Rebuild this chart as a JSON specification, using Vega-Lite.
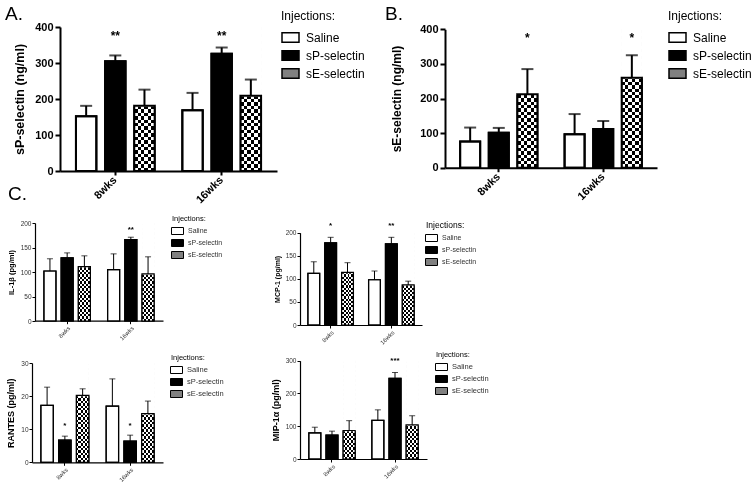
{
"$schema": "https://vega.github.io/schema/vega-lite/v6.json",
"padding": {"left": 5, "top": 5, "right": 5, "bottom": 5},
"background": "#ffffff",
"datasets": {"bars": [
{"panel":"A","time":"8wks","group":"Saline","mean":152,"err":181,"sig":""},
{"panel":"A","time":"8wks","group":"sP-selectin","mean":305,"err":321,"sig":"**"},
{"panel":"A","time":"8wks","group":"sE-selectin","mean":181,"err":226,"sig":""},
{"panel":"A","time":"16wks","group":"Saline","mean":169,"err":217,"sig":""},
{"panel":"A","time":"16wks","group":"sP-selectin","mean":326,"err":343,"sig":"**"},
{"panel":"A","time":"16wks","group":"sE-selectin","mean":209,"err":254,"sig":""},
{"panel":"B","time":"8wks","group":"Saline","mean":76,"err":116,"sig":""},
{"panel":"B","time":"8wks","group":"sP-selectin","mean":101,"err":115,"sig":""},
{"panel":"B","time":"8wks","group":"sE-selectin","mean":212,"err":285,"sig":"*"},
{"panel":"B","time":"16wks","group":"Saline","mean":97,"err":155,"sig":""},
{"panel":"B","time":"16wks","group":"sP-selectin","mean":112,"err":135,"sig":""},
{"panel":"B","time":"16wks","group":"sE-selectin","mean":260,"err":325,"sig":"*"},
{"panel":"IL","time":"8wks","group":"Saline","mean":102,"err":127,"sig":""},
{"panel":"IL","time":"8wks","group":"sP-selectin","mean":129,"err":139,"sig":""},
{"panel":"IL","time":"8wks","group":"sE-selectin","mean":111,"err":133,"sig":""},
{"panel":"IL","time":"16wks","group":"Saline","mean":105,"err":137,"sig":""},
{"panel":"IL","time":"16wks","group":"sP-selectin","mean":166,"err":171,"sig":"**"},
{"panel":"IL","time":"16wks","group":"sE-selectin","mean":96,"err":131,"sig":""},
{"panel":"MCP","time":"8wks","group":"Saline","mean":112,"err":137,"sig":""},
{"panel":"MCP","time":"8wks","group":"sP-selectin","mean":178,"err":190,"sig":"*"},
{"panel":"MCP","time":"8wks","group":"sE-selectin","mean":114,"err":135,"sig":""},
{"panel":"MCP","time":"16wks","group":"Saline","mean":98,"err":117,"sig":""},
{"panel":"MCP","time":"16wks","group":"sP-selectin","mean":176,"err":190,"sig":"**"},
{"panel":"MCP","time":"16wks","group":"sE-selectin","mean":87,"err":95,"sig":""},
{"panel":"RANTES","time":"8wks","group":"Saline","mean":17.2,"err":22.7,"sig":""},
{"panel":"RANTES","time":"8wks","group":"sP-selectin","mean":6.7,"err":7.9,"sig":"*"},
{"panel":"RANTES","time":"8wks","group":"sE-selectin","mean":20.2,"err":22.2,"sig":""},
{"panel":"RANTES","time":"16wks","group":"Saline","mean":17.0,"err":25.2,"sig":""},
{"panel":"RANTES","time":"16wks","group":"sP-selectin","mean":6.4,"err":8.2,"sig":"*"},
{"panel":"RANTES","time":"16wks","group":"sE-selectin","mean":14.7,"err":18.5,"sig":""},
{"panel":"MIP","time":"8wks","group":"Saline","mean":80,"err":97,"sig":""},
{"panel":"MIP","time":"8wks","group":"sP-selectin","mean":73,"err":85,"sig":""},
{"panel":"MIP","time":"8wks","group":"sE-selectin","mean":87,"err":117,"sig":""},
{"panel":"MIP","time":"16wks","group":"Saline","mean":118,"err":150,"sig":""},
{"panel":"MIP","time":"16wks","group":"sP-selectin","mean":246,"err":264,"sig":"***"},
{"panel":"MIP","time":"16wks","group":"sE-selectin","mean":104,"err":132,"sig":""}
]},
"config": {
 "font": "Liberation Sans",
 "view": {"stroke": null},
 "axis": {"grid": false, "domainColor": "#000000", "tickColor": "#000000", "labelColor": "#000000", "titleColor": "#000000", "labelFont": "Liberation Sans", "titleFont": "Liberation Sans", "labelOverlap": false},
 "legend": {"titleColor": "#000000", "labelColor": "#000000", "titleFont": "Liberation Sans", "labelFont": "Liberation Sans", "padding": 0}
},
"columns": 2,
"spacing": {"row": 38, "column": 0},
"align": "each",
"bounds": "flush",
"resolve": {"scale": {"x": "independent", "y": "independent", "xOffset": "independent", "fill": "independent"}, "legend": {"fill": "independent"}, "axis": {"x": "independent", "y": "independent"}},
"concat": [
{
 "title": {"text": "A.", "anchor": "start", "frame": "group", "dx": -27, "offset": -13, "fontSize": 19, "fontWeight": "normal", "color": "#000000", "font": "Liberation Sans"},
 "width": 268, "height": 158,
 "data": {"name": "bars"},
 "transform": [{"filter": "datum.panel === 'A'"}],
 "encoding": {
  "x": {"field": "time", "type": "nominal", "sort": ["8wks","16wks"], "title": null,
        "scale": {"range": [28, 245], "paddingInner": 0.26, "paddingOuter": 0.15},
        "axis": {"offset": -14, "labelAngle": -45, "labelAlign": "right", "labelBaseline": "middle", "labelFontSize": 11, "labelFontWeight": "bold", "domainWidth": 2, "tickWidth": 2, "tickSize": 4, "labelPadding": 3}},
  "xOffset": {"field": "group", "type": "nominal", "sort": ["Saline","sP-selectin","sE-selectin"], "scale": {"paddingInner": 0.3, "paddingOuter": 0}}
 },
 "layer": [
  {"mark": {"type": "bar", "stroke": "#000000", "strokeWidth": 2},
   "encoding": {
    "y": {"field": "mean", "type": "quantitative", "scale": {"domain": [0,400], "range": [144,0], "nice": false},
          "axis": {"offset": -28, "values": [0,100,200,300,400], "tickCount": 5, "labelOverlap": false, "title": "sP-selectin (ng/ml)", "titleFontSize": 12.5, "titleFontWeight": "bold", "titlePadding": 8, "labelFontSize": 11, "labelFontWeight": "bold", "labelPadding": 2, "domainWidth": 2, "tickWidth": 2, "tickSize": 5}},
    "fill": {"field": "group", "type": "nominal", "scale": {"domain": ["Saline","sP-selectin","sE-selectin"], "range": ["#ffffff","#000000","#808080"]},
     "legend": {"title": "Injections:", "orient": "none", "legendX": 249, "legendY": -16, "direction": "vertical", "titleFontSize": 12, "titleFontWeight": "normal", "titlePadding": 5, "labelFontSize": 12, "labelOffset": 6, "symbolType": "M-1,-0.55H1V0.55H-1Z", "symbolSize": 289, "symbolStrokeWidth": 1.5, "symbolStrokeColor": "#000000", "rowPadding": -1}}
   }},
  {"transform": [{"filter": "datum.group === 'sE-selectin'"}],
   "mark": {"type": "bar", "stroke": null, "fill": {"gradient":"linear","x1":0,"y1":0,"x2":1,"y2":0,"stops":[{"offset":0,"color":"#fff"},{"offset":0.1667,"color":"#fff"},{"offset":0.1667,"color":"#000"},{"offset":0.3333,"color":"#000"},{"offset":0.3333,"color":"#fff"},{"offset":0.5,"color":"#fff"},{"offset":0.5,"color":"#000"},{"offset":0.6667,"color":"#000"},{"offset":0.6667,"color":"#fff"},{"offset":0.8333,"color":"#fff"},{"offset":0.8333,"color":"#000"},{"offset":1,"color":"#000"}]}},
   "encoding": {"y": {"field": "mean", "type": "quantitative"}}},
  {"transform": [{"filter": "datum.group === 'sE-selectin'"}],
   "mark": {"type": "bar", "blend": "difference", "stroke": null, "fill": {"gradient":"linear","x1":0,"y1":0,"x2":0,"y2":1,"stops":[{"offset":0,"color":"#fff"},{"offset":0.0238,"color":"#fff"},{"offset":0.0238,"color":"#000"},{"offset":0.0476,"color":"#000"},{"offset":0.0476,"color":"#fff"},{"offset":0.0714,"color":"#fff"},{"offset":0.0714,"color":"#000"},{"offset":0.0952,"color":"#000"},{"offset":0.0952,"color":"#fff"},{"offset":0.119,"color":"#fff"},{"offset":0.119,"color":"#000"},{"offset":0.1429,"color":"#000"},{"offset":0.1429,"color":"#fff"},{"offset":0.1667,"color":"#fff"},{"offset":0.1667,"color":"#000"},{"offset":0.1905,"color":"#000"},{"offset":0.1905,"color":"#fff"},{"offset":0.2143,"color":"#fff"},{"offset":0.2143,"color":"#000"},{"offset":0.2381,"color":"#000"},{"offset":0.2381,"color":"#fff"},{"offset":0.2619,"color":"#fff"},{"offset":0.2619,"color":"#000"},{"offset":0.2857,"color":"#000"},{"offset":0.2857,"color":"#fff"},{"offset":0.3095,"color":"#fff"},{"offset":0.3095,"color":"#000"},{"offset":0.3333,"color":"#000"},{"offset":0.3333,"color":"#fff"},{"offset":0.3571,"color":"#fff"},{"offset":0.3571,"color":"#000"},{"offset":0.381,"color":"#000"},{"offset":0.381,"color":"#fff"},{"offset":0.4048,"color":"#fff"},{"offset":0.4048,"color":"#000"},{"offset":0.4286,"color":"#000"},{"offset":0.4286,"color":"#fff"},{"offset":0.4524,"color":"#fff"},{"offset":0.4524,"color":"#000"},{"offset":0.4762,"color":"#000"},{"offset":0.4762,"color":"#fff"},{"offset":0.5,"color":"#fff"},{"offset":0.5,"color":"#000"},{"offset":0.5238,"color":"#000"},{"offset":0.5238,"color":"#fff"},{"offset":0.5476,"color":"#fff"},{"offset":0.5476,"color":"#000"},{"offset":0.5714,"color":"#000"},{"offset":0.5714,"color":"#fff"},{"offset":0.5952,"color":"#fff"},{"offset":0.5952,"color":"#000"},{"offset":0.619,"color":"#000"},{"offset":0.619,"color":"#fff"},{"offset":0.6429,"color":"#fff"},{"offset":0.6429,"color":"#000"},{"offset":0.6667,"color":"#000"},{"offset":0.6667,"color":"#fff"},{"offset":0.6905,"color":"#fff"},{"offset":0.6905,"color":"#000"},{"offset":0.7143,"color":"#000"},{"offset":0.7143,"color":"#fff"},{"offset":0.7381,"color":"#fff"},{"offset":0.7381,"color":"#000"},{"offset":0.7619,"color":"#000"},{"offset":0.7619,"color":"#fff"},{"offset":0.7857,"color":"#fff"},{"offset":0.7857,"color":"#000"},{"offset":0.8095,"color":"#000"},{"offset":0.8095,"color":"#fff"},{"offset":0.8333,"color":"#fff"},{"offset":0.8333,"color":"#000"},{"offset":0.8571,"color":"#000"},{"offset":0.8571,"color":"#fff"},{"offset":0.881,"color":"#fff"},{"offset":0.881,"color":"#000"},{"offset":0.9048,"color":"#000"},{"offset":0.9048,"color":"#fff"},{"offset":0.9286,"color":"#fff"},{"offset":0.9286,"color":"#000"},{"offset":0.9524,"color":"#000"},{"offset":0.9524,"color":"#fff"},{"offset":0.9762,"color":"#fff"},{"offset":0.9762,"color":"#000"},{"offset":1,"color":"#000"}]}},
   "encoding": {"y": {"datum": 0}, "y2": {"datum": 400}}},
  {"transform": [{"filter": "datum.group === 'sE-selectin'"}],
   "mark": {"type": "bar", "fill": "#ffffff", "stroke": "#ffffff", "strokeWidth": 1.5},
   "encoding": {"y": {"field": "mean", "type": "quantitative"}, "y2": {"datum": 400}}},
  {"mark": {"type": "bar", "fill": "#ffffff", "fillOpacity": 0, "stroke": "#000000", "strokeWidth": 2},
   "encoding": {"y": {"field": "mean", "type": "quantitative"}}},
  {"mark": {"type": "rule", "color": "#000000", "strokeWidth": 2},
   "encoding": {"y": {"field": "mean", "type": "quantitative"}, "y2": {"field": "err"}}},
  {"mark": {"type": "tick", "orient": "horizontal", "color": "#000000", "size": 12, "thickness": 2},
   "encoding": {"y": {"field": "err", "type": "quantitative"}}},
  {"mark": {"type": "text", "fontSize": 12, "fontWeight": "bold", "color": "#000000"},
   "encoding": {"y": {"datum": 376}, "text": {"field": "sig"}}}
 ]
},
{
 "title": {"text": "B.", "anchor": "start", "frame": "group", "dx": 85, "offset": -13, "fontSize": 19, "fontWeight": "normal", "color": "#000000", "font": "Liberation Sans"},
 "width": 360, "height": 158,
 "data": {"name": "bars"},
 "transform": [{"filter": "datum.panel === 'B'"}],
 "encoding": {
  "x": {"field": "time", "type": "nominal", "sort": ["8wks","16wks"], "title": null,
        "scale": {"range": [145, 357], "paddingInner": 0.26, "paddingOuter": 0.145},
        "axis": {"offset": -17.3, "labelAngle": -45, "labelAlign": "right", "labelBaseline": "middle", "labelFontSize": 11, "labelFontWeight": "bold", "domainWidth": 2, "tickWidth": 2, "tickSize": 4, "labelPadding": 3}},
  "xOffset": {"field": "group", "type": "nominal", "sort": ["Saline","sP-selectin","sE-selectin"], "scale": {"paddingInner": 0.3, "paddingOuter": 0}}
 },
 "layer": [
  {"mark": {"type": "bar", "stroke": "#000000", "strokeWidth": 2},
   "encoding": {
    "y": {"field": "mean", "type": "quantitative", "scale": {"domain": [0,400], "range": [140.7,2.3], "nice": false},
          "axis": {"offset": -145, "values": [0,100,200,300,400], "tickCount": 5, "labelOverlap": false, "title": "sE-selectin (ng/ml)", "titleFontSize": 12, "titleFontWeight": "bold", "titlePadding": 16, "labelFontSize": 11, "labelFontWeight": "bold", "labelPadding": 2, "domainWidth": 2, "tickWidth": 2, "tickSize": 5}},
    "fill": {"field": "group", "type": "nominal", "scale": {"domain": ["Saline","sP-selectin","sE-selectin"], "range": ["#ffffff","#000000","#808080"]},
     "legend": {"title": "Injections:", "orient": "none", "legendX": 368, "legendY": -16, "direction": "vertical", "titleFontSize": 12, "titleFontWeight": "normal", "titlePadding": 5, "labelFontSize": 12, "labelOffset": 6, "symbolType": "M-1,-0.55H1V0.55H-1Z", "symbolSize": 289, "symbolStrokeWidth": 1.5, "symbolStrokeColor": "#000000", "rowPadding": -1}}
   }},
  {"transform": [{"filter": "datum.group === 'sE-selectin'"}],
   "mark": {"type": "bar", "stroke": null, "fill": {"gradient":"linear","x1":0,"y1":0,"x2":1,"y2":0,"stops":[{"offset":0,"color":"#fff"},{"offset":0.1667,"color":"#fff"},{"offset":0.1667,"color":"#000"},{"offset":0.3333,"color":"#000"},{"offset":0.3333,"color":"#fff"},{"offset":0.5,"color":"#fff"},{"offset":0.5,"color":"#000"},{"offset":0.6667,"color":"#000"},{"offset":0.6667,"color":"#fff"},{"offset":0.8333,"color":"#fff"},{"offset":0.8333,"color":"#000"},{"offset":1,"color":"#000"}]}},
   "encoding": {"y": {"field": "mean", "type": "quantitative"}}},
  {"transform": [{"filter": "datum.group === 'sE-selectin'"}],
   "mark": {"type": "bar", "blend": "difference", "stroke": null, "fill": {"gradient":"linear","x1":0,"y1":0,"x2":0,"y2":1,"stops":[{"offset":0,"color":"#fff"},{"offset":0.0238,"color":"#fff"},{"offset":0.0238,"color":"#000"},{"offset":0.0476,"color":"#000"},{"offset":0.0476,"color":"#fff"},{"offset":0.0714,"color":"#fff"},{"offset":0.0714,"color":"#000"},{"offset":0.0952,"color":"#000"},{"offset":0.0952,"color":"#fff"},{"offset":0.119,"color":"#fff"},{"offset":0.119,"color":"#000"},{"offset":0.1429,"color":"#000"},{"offset":0.1429,"color":"#fff"},{"offset":0.1667,"color":"#fff"},{"offset":0.1667,"color":"#000"},{"offset":0.1905,"color":"#000"},{"offset":0.1905,"color":"#fff"},{"offset":0.2143,"color":"#fff"},{"offset":0.2143,"color":"#000"},{"offset":0.2381,"color":"#000"},{"offset":0.2381,"color":"#fff"},{"offset":0.2619,"color":"#fff"},{"offset":0.2619,"color":"#000"},{"offset":0.2857,"color":"#000"},{"offset":0.2857,"color":"#fff"},{"offset":0.3095,"color":"#fff"},{"offset":0.3095,"color":"#000"},{"offset":0.3333,"color":"#000"},{"offset":0.3333,"color":"#fff"},{"offset":0.3571,"color":"#fff"},{"offset":0.3571,"color":"#000"},{"offset":0.381,"color":"#000"},{"offset":0.381,"color":"#fff"},{"offset":0.4048,"color":"#fff"},{"offset":0.4048,"color":"#000"},{"offset":0.4286,"color":"#000"},{"offset":0.4286,"color":"#fff"},{"offset":0.4524,"color":"#fff"},{"offset":0.4524,"color":"#000"},{"offset":0.4762,"color":"#000"},{"offset":0.4762,"color":"#fff"},{"offset":0.5,"color":"#fff"},{"offset":0.5,"color":"#000"},{"offset":0.5238,"color":"#000"},{"offset":0.5238,"color":"#fff"},{"offset":0.5476,"color":"#fff"},{"offset":0.5476,"color":"#000"},{"offset":0.5714,"color":"#000"},{"offset":0.5714,"color":"#fff"},{"offset":0.5952,"color":"#fff"},{"offset":0.5952,"color":"#000"},{"offset":0.619,"color":"#000"},{"offset":0.619,"color":"#fff"},{"offset":0.6429,"color":"#fff"},{"offset":0.6429,"color":"#000"},{"offset":0.6667,"color":"#000"},{"offset":0.6667,"color":"#fff"},{"offset":0.6905,"color":"#fff"},{"offset":0.6905,"color":"#000"},{"offset":0.7143,"color":"#000"},{"offset":0.7143,"color":"#fff"},{"offset":0.7381,"color":"#fff"},{"offset":0.7381,"color":"#000"},{"offset":0.7619,"color":"#000"},{"offset":0.7619,"color":"#fff"},{"offset":0.7857,"color":"#fff"},{"offset":0.7857,"color":"#000"},{"offset":0.8095,"color":"#000"},{"offset":0.8095,"color":"#fff"},{"offset":0.8333,"color":"#fff"},{"offset":0.8333,"color":"#000"},{"offset":0.8571,"color":"#000"},{"offset":0.8571,"color":"#fff"},{"offset":0.881,"color":"#fff"},{"offset":0.881,"color":"#000"},{"offset":0.9048,"color":"#000"},{"offset":0.9048,"color":"#fff"},{"offset":0.9286,"color":"#fff"},{"offset":0.9286,"color":"#000"},{"offset":0.9524,"color":"#000"},{"offset":0.9524,"color":"#fff"},{"offset":0.9762,"color":"#fff"},{"offset":0.9762,"color":"#000"},{"offset":1,"color":"#000"}]}},
   "encoding": {"y": {"datum": 0}, "y2": {"datum": 400}}},
  {"transform": [{"filter": "datum.group === 'sE-selectin'"}],
   "mark": {"type": "bar", "fill": "#ffffff", "stroke": "#ffffff", "strokeWidth": 1.5},
   "encoding": {"y": {"field": "mean", "type": "quantitative"}, "y2": {"datum": 400}}},
  {"mark": {"type": "bar", "fill": "#ffffff", "fillOpacity": 0, "stroke": "#000000", "strokeWidth": 2},
   "encoding": {"y": {"field": "mean", "type": "quantitative"}}},
  {"mark": {"type": "rule", "color": "#000000", "strokeWidth": 2},
   "encoding": {"y": {"field": "mean", "type": "quantitative"}, "y2": {"field": "err"}}},
  {"mark": {"type": "tick", "orient": "horizontal", "color": "#000000", "size": 12, "thickness": 2},
   "encoding": {"y": {"field": "err", "type": "quantitative"}}},
  {"mark": {"type": "text", "fontSize": 12, "fontWeight": "bold", "color": "#000000"},
   "encoding": {"y": {"datum": 374}, "text": {"field": "sig"}}}
 ]
},
{
 "title": {"text": "C.", "anchor": "start", "frame": "group", "dx": -24, "offset": 11, "fontSize": 19, "fontWeight": "normal", "color": "#000000", "font": "Liberation Sans"},
 "width": 268, "height": 102,
 "data": {"name": "bars"},
 "transform": [{"filter": "datum.panel === 'IL'"}],
 "encoding": {
  "x": {"field": "time", "type": "nominal", "sort": ["8wks","16wks"], "title": null,
        "scale": {"range": [3, 131], "paddingInner": 0.27, "paddingOuter": 0.14},
        "axis": {"offset": -4.3, "labelAngle": -45, "labelFontSize": 6, "labelColor": "#333333", "domainWidth": 1.2, "tickWidth": 1, "tickSize": 3, "labelPadding": 1}},
  "xOffset": {"field": "group", "type": "nominal", "sort": ["Saline","sP-selectin","sE-selectin"], "scale": {"paddingInner": 0.3, "paddingOuter": 0}}
 },
 "layer": [
  {"mark": {"type": "bar", "stroke": "#000000", "strokeWidth": 1.2},
   "encoding": {
    "y": {"field": "mean", "type": "quantitative", "scale": {"domain": [0,200], "range": [98,0], "nice": false},
          "axis": {"offset": -3, "values": [0,50,100,150,200], "tickCount": 5, "labelOverlap": false, "title": "IL-1β (pg/ml)", "titleFontSize": 7.5, "titleFontWeight": "bold", "titlePadding": 5, "labelFontSize": 6.5, "labelColor": "#333333", "labelPadding": 1, "domainWidth": 1.2, "tickWidth": 1, "tickSize": 3}},
    "fill": {"field": "group", "type": "nominal", "scale": {"domain": ["Saline","sP-selectin","sE-selectin"], "range": ["#ffffff","#000000","#808080"]},
     "legend": {"title": "Injections:", "orient": "none", "legendX": 140, "legendY": -8, "direction": "vertical", "titleFontSize": 7.5, "titleFontWeight": "normal", "titlePadding": 3, "labelFontSize": 7, "labelColor": "#333333", "labelOffset": 5, "symbolType": "M-1.2,-0.7H1.2V0.7H-1.2Z", "symbolSize": 100, "symbolStrokeWidth": 1, "symbolStrokeColor": "#000000", "rowPadding": 1}}
   }},
  {"transform": [{"filter": "datum.group === 'sE-selectin'"}],
   "mark": {"type": "bar", "stroke": null, "fill": {"gradient":"linear","x1":0,"y1":0,"x2":1,"y2":0,"stops":[{"offset":0,"color":"#fff"},{"offset":0.1667,"color":"#fff"},{"offset":0.1667,"color":"#000"},{"offset":0.3333,"color":"#000"},{"offset":0.3333,"color":"#fff"},{"offset":0.5,"color":"#fff"},{"offset":0.5,"color":"#000"},{"offset":0.6667,"color":"#000"},{"offset":0.6667,"color":"#fff"},{"offset":0.8333,"color":"#fff"},{"offset":0.8333,"color":"#000"},{"offset":1,"color":"#000"}]}},
   "encoding": {"y": {"field": "mean", "type": "quantitative"}}},
  {"transform": [{"filter": "datum.group === 'sE-selectin'"}],
   "mark": {"type": "bar", "blend": "difference", "stroke": null, "fill": {"gradient":"linear","x1":0,"y1":0,"x2":0,"y2":1,"stops":[{"offset":0,"color":"#fff"},{"offset":0.0238,"color":"#fff"},{"offset":0.0238,"color":"#000"},{"offset":0.0476,"color":"#000"},{"offset":0.0476,"color":"#fff"},{"offset":0.0714,"color":"#fff"},{"offset":0.0714,"color":"#000"},{"offset":0.0952,"color":"#000"},{"offset":0.0952,"color":"#fff"},{"offset":0.119,"color":"#fff"},{"offset":0.119,"color":"#000"},{"offset":0.1429,"color":"#000"},{"offset":0.1429,"color":"#fff"},{"offset":0.1667,"color":"#fff"},{"offset":0.1667,"color":"#000"},{"offset":0.1905,"color":"#000"},{"offset":0.1905,"color":"#fff"},{"offset":0.2143,"color":"#fff"},{"offset":0.2143,"color":"#000"},{"offset":0.2381,"color":"#000"},{"offset":0.2381,"color":"#fff"},{"offset":0.2619,"color":"#fff"},{"offset":0.2619,"color":"#000"},{"offset":0.2857,"color":"#000"},{"offset":0.2857,"color":"#fff"},{"offset":0.3095,"color":"#fff"},{"offset":0.3095,"color":"#000"},{"offset":0.3333,"color":"#000"},{"offset":0.3333,"color":"#fff"},{"offset":0.3571,"color":"#fff"},{"offset":0.3571,"color":"#000"},{"offset":0.381,"color":"#000"},{"offset":0.381,"color":"#fff"},{"offset":0.4048,"color":"#fff"},{"offset":0.4048,"color":"#000"},{"offset":0.4286,"color":"#000"},{"offset":0.4286,"color":"#fff"},{"offset":0.4524,"color":"#fff"},{"offset":0.4524,"color":"#000"},{"offset":0.4762,"color":"#000"},{"offset":0.4762,"color":"#fff"},{"offset":0.5,"color":"#fff"},{"offset":0.5,"color":"#000"},{"offset":0.5238,"color":"#000"},{"offset":0.5238,"color":"#fff"},{"offset":0.5476,"color":"#fff"},{"offset":0.5476,"color":"#000"},{"offset":0.5714,"color":"#000"},{"offset":0.5714,"color":"#fff"},{"offset":0.5952,"color":"#fff"},{"offset":0.5952,"color":"#000"},{"offset":0.619,"color":"#000"},{"offset":0.619,"color":"#fff"},{"offset":0.6429,"color":"#fff"},{"offset":0.6429,"color":"#000"},{"offset":0.6667,"color":"#000"},{"offset":0.6667,"color":"#fff"},{"offset":0.6905,"color":"#fff"},{"offset":0.6905,"color":"#000"},{"offset":0.7143,"color":"#000"},{"offset":0.7143,"color":"#fff"},{"offset":0.7381,"color":"#fff"},{"offset":0.7381,"color":"#000"},{"offset":0.7619,"color":"#000"},{"offset":0.7619,"color":"#fff"},{"offset":0.7857,"color":"#fff"},{"offset":0.7857,"color":"#000"},{"offset":0.8095,"color":"#000"},{"offset":0.8095,"color":"#fff"},{"offset":0.8333,"color":"#fff"},{"offset":0.8333,"color":"#000"},{"offset":0.8571,"color":"#000"},{"offset":0.8571,"color":"#fff"},{"offset":0.881,"color":"#fff"},{"offset":0.881,"color":"#000"},{"offset":0.9048,"color":"#000"},{"offset":0.9048,"color":"#fff"},{"offset":0.9286,"color":"#fff"},{"offset":0.9286,"color":"#000"},{"offset":0.9524,"color":"#000"},{"offset":0.9524,"color":"#fff"},{"offset":0.9762,"color":"#fff"},{"offset":0.9762,"color":"#000"},{"offset":1,"color":"#000"}]}},
   "encoding": {"y": {"datum": 0}, "y2": {"datum": 200}}},
  {"transform": [{"filter": "datum.group === 'sE-selectin'"}],
   "mark": {"type": "bar", "fill": "#ffffff", "stroke": "#ffffff", "strokeWidth": 1.5},
   "encoding": {"y": {"field": "mean", "type": "quantitative"}, "y2": {"datum": 200}}},
  {"mark": {"type": "bar", "fill": "#ffffff", "fillOpacity": 0, "stroke": "#000000", "strokeWidth": 1.2},
   "encoding": {"y": {"field": "mean", "type": "quantitative"}}},
  {"mark": {"type": "rule", "color": "#000000", "strokeWidth": 1},
   "encoding": {"y": {"field": "mean", "type": "quantitative"}, "y2": {"field": "err"}}},
  {"mark": {"type": "tick", "orient": "horizontal", "color": "#000000", "size": 6, "thickness": 1},
   "encoding": {"y": {"field": "err", "type": "quantitative"}}},
  {"mark": {"type": "text", "fontSize": 8, "fontWeight": "bold", "color": "#000000"},
   "encoding": {"y": {"datum": 186}, "text": {"field": "sig"}}}
 ]
},
{
 "width": 360, "height": 102,
 "data": {"name": "bars"},
 "transform": [{"filter": "datum.panel === 'MCP'"}],
 "encoding": {
  "x": {"field": "time", "type": "nominal", "sort": ["8wks","16wks"], "title": null,
        "scale": {"range": [0, 122], "paddingInner": 0.25, "paddingOuter": 0.13},
        "axis": {"labelAngle": -45, "labelFontSize": 6, "labelColor": "#333333", "domainWidth": 1.2, "tickWidth": 1, "tickSize": 3, "labelPadding": 1}},
  "xOffset": {"field": "group", "type": "nominal", "sort": ["Saline","sP-selectin","sE-selectin"], "scale": {"paddingInner": 0.3, "paddingOuter": 0}}
 },
 "layer": [
  {"mark": {"type": "bar", "stroke": "#000000", "strokeWidth": 1.2},
   "encoding": {
    "y": {"field": "mean", "type": "quantitative", "scale": {"domain": [0,200], "range": [102,9.7], "nice": false},
          "axis": {"values": [0,50,100,150,200], "tickCount": 5, "labelOverlap": false, "title": "MCP-1 (pg/ml)", "titleFontSize": 7, "titleFontWeight": "bold", "titlePadding": 5, "labelFontSize": 6.5, "labelColor": "#333333", "labelPadding": 1, "domainWidth": 1.2, "tickWidth": 1, "tickSize": 3}},
    "fill": {"field": "group", "type": "nominal", "scale": {"domain": ["Saline","sP-selectin","sE-selectin"], "range": ["#ffffff","#000000","#808080"]},
     "legend": {"title": "Injections:", "orient": "none", "legendX": 126, "legendY": -2, "direction": "vertical", "titleFontSize": 8.5, "titleFontWeight": "normal", "titlePadding": 3, "labelFontSize": 7, "labelColor": "#333333", "labelOffset": 5, "symbolType": "M-1.2,-0.7H1.2V0.7H-1.2Z", "symbolSize": 100, "symbolStrokeWidth": 1, "symbolStrokeColor": "#000000", "rowPadding": 1}}
   }},
  {"transform": [{"filter": "datum.group === 'sE-selectin'"}],
   "mark": {"type": "bar", "stroke": null, "fill": {"gradient":"linear","x1":0,"y1":0,"x2":1,"y2":0,"stops":[{"offset":0,"color":"#fff"},{"offset":0.1667,"color":"#fff"},{"offset":0.1667,"color":"#000"},{"offset":0.3333,"color":"#000"},{"offset":0.3333,"color":"#fff"},{"offset":0.5,"color":"#fff"},{"offset":0.5,"color":"#000"},{"offset":0.6667,"color":"#000"},{"offset":0.6667,"color":"#fff"},{"offset":0.8333,"color":"#fff"},{"offset":0.8333,"color":"#000"},{"offset":1,"color":"#000"}]}},
   "encoding": {"y": {"field": "mean", "type": "quantitative"}}},
  {"transform": [{"filter": "datum.group === 'sE-selectin'"}],
   "mark": {"type": "bar", "blend": "difference", "stroke": null, "fill": {"gradient":"linear","x1":0,"y1":0,"x2":0,"y2":1,"stops":[{"offset":0,"color":"#fff"},{"offset":0.0238,"color":"#fff"},{"offset":0.0238,"color":"#000"},{"offset":0.0476,"color":"#000"},{"offset":0.0476,"color":"#fff"},{"offset":0.0714,"color":"#fff"},{"offset":0.0714,"color":"#000"},{"offset":0.0952,"color":"#000"},{"offset":0.0952,"color":"#fff"},{"offset":0.119,"color":"#fff"},{"offset":0.119,"color":"#000"},{"offset":0.1429,"color":"#000"},{"offset":0.1429,"color":"#fff"},{"offset":0.1667,"color":"#fff"},{"offset":0.1667,"color":"#000"},{"offset":0.1905,"color":"#000"},{"offset":0.1905,"color":"#fff"},{"offset":0.2143,"color":"#fff"},{"offset":0.2143,"color":"#000"},{"offset":0.2381,"color":"#000"},{"offset":0.2381,"color":"#fff"},{"offset":0.2619,"color":"#fff"},{"offset":0.2619,"color":"#000"},{"offset":0.2857,"color":"#000"},{"offset":0.2857,"color":"#fff"},{"offset":0.3095,"color":"#fff"},{"offset":0.3095,"color":"#000"},{"offset":0.3333,"color":"#000"},{"offset":0.3333,"color":"#fff"},{"offset":0.3571,"color":"#fff"},{"offset":0.3571,"color":"#000"},{"offset":0.381,"color":"#000"},{"offset":0.381,"color":"#fff"},{"offset":0.4048,"color":"#fff"},{"offset":0.4048,"color":"#000"},{"offset":0.4286,"color":"#000"},{"offset":0.4286,"color":"#fff"},{"offset":0.4524,"color":"#fff"},{"offset":0.4524,"color":"#000"},{"offset":0.4762,"color":"#000"},{"offset":0.4762,"color":"#fff"},{"offset":0.5,"color":"#fff"},{"offset":0.5,"color":"#000"},{"offset":0.5238,"color":"#000"},{"offset":0.5238,"color":"#fff"},{"offset":0.5476,"color":"#fff"},{"offset":0.5476,"color":"#000"},{"offset":0.5714,"color":"#000"},{"offset":0.5714,"color":"#fff"},{"offset":0.5952,"color":"#fff"},{"offset":0.5952,"color":"#000"},{"offset":0.619,"color":"#000"},{"offset":0.619,"color":"#fff"},{"offset":0.6429,"color":"#fff"},{"offset":0.6429,"color":"#000"},{"offset":0.6667,"color":"#000"},{"offset":0.6667,"color":"#fff"},{"offset":0.6905,"color":"#fff"},{"offset":0.6905,"color":"#000"},{"offset":0.7143,"color":"#000"},{"offset":0.7143,"color":"#fff"},{"offset":0.7381,"color":"#fff"},{"offset":0.7381,"color":"#000"},{"offset":0.7619,"color":"#000"},{"offset":0.7619,"color":"#fff"},{"offset":0.7857,"color":"#fff"},{"offset":0.7857,"color":"#000"},{"offset":0.8095,"color":"#000"},{"offset":0.8095,"color":"#fff"},{"offset":0.8333,"color":"#fff"},{"offset":0.8333,"color":"#000"},{"offset":0.8571,"color":"#000"},{"offset":0.8571,"color":"#fff"},{"offset":0.881,"color":"#fff"},{"offset":0.881,"color":"#000"},{"offset":0.9048,"color":"#000"},{"offset":0.9048,"color":"#fff"},{"offset":0.9286,"color":"#fff"},{"offset":0.9286,"color":"#000"},{"offset":0.9524,"color":"#000"},{"offset":0.9524,"color":"#fff"},{"offset":0.9762,"color":"#fff"},{"offset":0.9762,"color":"#000"},{"offset":1,"color":"#000"}]}},
   "encoding": {"y": {"datum": 0}, "y2": {"datum": 200}}},
  {"transform": [{"filter": "datum.group === 'sE-selectin'"}],
   "mark": {"type": "bar", "fill": "#ffffff", "stroke": "#ffffff", "strokeWidth": 1.5},
   "encoding": {"y": {"field": "mean", "type": "quantitative"}, "y2": {"datum": 200}}},
  {"mark": {"type": "bar", "fill": "#ffffff", "fillOpacity": 0, "stroke": "#000000", "strokeWidth": 1.2},
   "encoding": {"y": {"field": "mean", "type": "quantitative"}}},
  {"mark": {"type": "rule", "color": "#000000", "strokeWidth": 1},
   "encoding": {"y": {"field": "mean", "type": "quantitative"}, "y2": {"field": "err"}}},
  {"mark": {"type": "tick", "orient": "horizontal", "color": "#000000", "size": 6, "thickness": 1},
   "encoding": {"y": {"field": "err", "type": "quantitative"}}},
  {"mark": {"type": "text", "fontSize": 8, "fontWeight": "bold", "color": "#000000"},
   "encoding": {"y": {"datum": 213.5}, "text": {"field": "sig"}}}
 ]
},
{
 "width": 268, "height": 100,
 "data": {"name": "bars"},
 "transform": [{"filter": "datum.panel === 'RANTES'"}],
 "encoding": {
  "x": {"field": "time", "type": "nominal", "sort": ["8wks","16wks"], "title": null,
        "scale": {"range": [0, 131], "paddingInner": 0.265, "paddingOuter": 0.136},
        "axis": {"offset": -0.7, "labelAngle": -45, "labelFontSize": 6, "labelColor": "#333333", "domainWidth": 1.2, "tickWidth": 1, "tickSize": 3, "labelPadding": 1}},
  "xOffset": {"field": "group", "type": "nominal", "sort": ["Saline","sP-selectin","sE-selectin"], "scale": {"paddingInner": 0.3, "paddingOuter": 0}}
 },
 "layer": [
  {"mark": {"type": "bar", "stroke": "#000000", "strokeWidth": 1.2},
   "encoding": {
    "y": {"field": "mean", "type": "quantitative", "scale": {"domain": [0,30], "range": [99.3,0], "nice": false},
          "axis": {"values": [0,10,20,30], "tickCount": 4, "labelOverlap": false, "title": "RANTES (pg/ml)", "titleFontSize": 9, "titleFontWeight": "bold", "titlePadding": 5, "labelFontSize": 6.5, "labelColor": "#333333", "labelPadding": 1, "domainWidth": 1.2, "tickWidth": 1, "tickSize": 3}},
    "fill": {"field": "group", "type": "nominal", "scale": {"domain": ["Saline","sP-selectin","sE-selectin"], "range": ["#ffffff","#000000","#808080"]},
     "legend": {"title": "Injections:", "orient": "none", "legendX": 139, "legendY": -9, "direction": "vertical", "titleFontSize": 7.5, "titleFontWeight": "normal", "titlePadding": 3, "labelFontSize": 7.5, "labelColor": "#333333", "labelOffset": 5, "symbolType": "M-1.2,-0.7H1.2V0.7H-1.2Z", "symbolSize": 100, "symbolStrokeWidth": 1, "symbolStrokeColor": "#000000", "rowPadding": 1}}
   }},
  {"transform": [{"filter": "datum.group === 'sE-selectin'"}],
   "mark": {"type": "bar", "stroke": null, "fill": {"gradient":"linear","x1":0,"y1":0,"x2":1,"y2":0,"stops":[{"offset":0,"color":"#fff"},{"offset":0.1667,"color":"#fff"},{"offset":0.1667,"color":"#000"},{"offset":0.3333,"color":"#000"},{"offset":0.3333,"color":"#fff"},{"offset":0.5,"color":"#fff"},{"offset":0.5,"color":"#000"},{"offset":0.6667,"color":"#000"},{"offset":0.6667,"color":"#fff"},{"offset":0.8333,"color":"#fff"},{"offset":0.8333,"color":"#000"},{"offset":1,"color":"#000"}]}},
   "encoding": {"y": {"field": "mean", "type": "quantitative"}}},
  {"transform": [{"filter": "datum.group === 'sE-selectin'"}],
   "mark": {"type": "bar", "blend": "difference", "stroke": null, "fill": {"gradient":"linear","x1":0,"y1":0,"x2":0,"y2":1,"stops":[{"offset":0,"color":"#fff"},{"offset":0.0238,"color":"#fff"},{"offset":0.0238,"color":"#000"},{"offset":0.0476,"color":"#000"},{"offset":0.0476,"color":"#fff"},{"offset":0.0714,"color":"#fff"},{"offset":0.0714,"color":"#000"},{"offset":0.0952,"color":"#000"},{"offset":0.0952,"color":"#fff"},{"offset":0.119,"color":"#fff"},{"offset":0.119,"color":"#000"},{"offset":0.1429,"color":"#000"},{"offset":0.1429,"color":"#fff"},{"offset":0.1667,"color":"#fff"},{"offset":0.1667,"color":"#000"},{"offset":0.1905,"color":"#000"},{"offset":0.1905,"color":"#fff"},{"offset":0.2143,"color":"#fff"},{"offset":0.2143,"color":"#000"},{"offset":0.2381,"color":"#000"},{"offset":0.2381,"color":"#fff"},{"offset":0.2619,"color":"#fff"},{"offset":0.2619,"color":"#000"},{"offset":0.2857,"color":"#000"},{"offset":0.2857,"color":"#fff"},{"offset":0.3095,"color":"#fff"},{"offset":0.3095,"color":"#000"},{"offset":0.3333,"color":"#000"},{"offset":0.3333,"color":"#fff"},{"offset":0.3571,"color":"#fff"},{"offset":0.3571,"color":"#000"},{"offset":0.381,"color":"#000"},{"offset":0.381,"color":"#fff"},{"offset":0.4048,"color":"#fff"},{"offset":0.4048,"color":"#000"},{"offset":0.4286,"color":"#000"},{"offset":0.4286,"color":"#fff"},{"offset":0.4524,"color":"#fff"},{"offset":0.4524,"color":"#000"},{"offset":0.4762,"color":"#000"},{"offset":0.4762,"color":"#fff"},{"offset":0.5,"color":"#fff"},{"offset":0.5,"color":"#000"},{"offset":0.5238,"color":"#000"},{"offset":0.5238,"color":"#fff"},{"offset":0.5476,"color":"#fff"},{"offset":0.5476,"color":"#000"},{"offset":0.5714,"color":"#000"},{"offset":0.5714,"color":"#fff"},{"offset":0.5952,"color":"#fff"},{"offset":0.5952,"color":"#000"},{"offset":0.619,"color":"#000"},{"offset":0.619,"color":"#fff"},{"offset":0.6429,"color":"#fff"},{"offset":0.6429,"color":"#000"},{"offset":0.6667,"color":"#000"},{"offset":0.6667,"color":"#fff"},{"offset":0.6905,"color":"#fff"},{"offset":0.6905,"color":"#000"},{"offset":0.7143,"color":"#000"},{"offset":0.7143,"color":"#fff"},{"offset":0.7381,"color":"#fff"},{"offset":0.7381,"color":"#000"},{"offset":0.7619,"color":"#000"},{"offset":0.7619,"color":"#fff"},{"offset":0.7857,"color":"#fff"},{"offset":0.7857,"color":"#000"},{"offset":0.8095,"color":"#000"},{"offset":0.8095,"color":"#fff"},{"offset":0.8333,"color":"#fff"},{"offset":0.8333,"color":"#000"},{"offset":0.8571,"color":"#000"},{"offset":0.8571,"color":"#fff"},{"offset":0.881,"color":"#fff"},{"offset":0.881,"color":"#000"},{"offset":0.9048,"color":"#000"},{"offset":0.9048,"color":"#fff"},{"offset":0.9286,"color":"#fff"},{"offset":0.9286,"color":"#000"},{"offset":0.9524,"color":"#000"},{"offset":0.9524,"color":"#fff"},{"offset":0.9762,"color":"#fff"},{"offset":0.9762,"color":"#000"},{"offset":1,"color":"#000"}]}},
   "encoding": {"y": {"datum": 0}, "y2": {"datum": 30}}},
  {"transform": [{"filter": "datum.group === 'sE-selectin'"}],
   "mark": {"type": "bar", "fill": "#ffffff", "stroke": "#ffffff", "strokeWidth": 1.5},
   "encoding": {"y": {"field": "mean", "type": "quantitative"}, "y2": {"datum": 30}}},
  {"mark": {"type": "bar", "fill": "#ffffff", "fillOpacity": 0, "stroke": "#000000", "strokeWidth": 1.2},
   "encoding": {"y": {"field": "mean", "type": "quantitative"}}},
  {"mark": {"type": "rule", "color": "#000000", "strokeWidth": 1},
   "encoding": {"y": {"field": "mean", "type": "quantitative"}, "y2": {"field": "err"}}},
  {"mark": {"type": "tick", "orient": "horizontal", "color": "#000000", "size": 6, "thickness": 1},
   "encoding": {"y": {"field": "err", "type": "quantitative"}}},
  {"mark": {"type": "text", "fontSize": 8, "fontWeight": "bold", "color": "#000000"},
   "encoding": {"y": {"datum": 11}, "text": {"field": "sig"}}}
 ]
},
{
 "width": 360, "height": 100,
 "data": {"name": "bars"},
 "transform": [{"filter": "datum.panel === 'MIP'"}],
 "encoding": {
  "x": {"field": "time", "type": "nominal", "sort": ["8wks","16wks"], "title": null,
        "scale": {"range": [0, 127], "paddingInner": 0.265, "paddingOuter": 0.14},
        "axis": {"offset": -4, "labelAngle": -45, "labelFontSize": 6, "labelColor": "#333333", "domainWidth": 1.2, "tickWidth": 1, "tickSize": 3, "labelPadding": 1}},
  "xOffset": {"field": "group", "type": "nominal", "sort": ["Saline","sP-selectin","sE-selectin"], "scale": {"paddingInner": 0.3, "paddingOuter": 0}}
 },
 "layer": [
  {"mark": {"type": "bar", "stroke": "#000000", "strokeWidth": 1.2},
   "encoding": {
    "y": {"field": "mean", "type": "quantitative", "scale": {"domain": [0,300], "range": [96,-2.3], "nice": false},
          "axis": {"values": [0,100,200,300], "tickCount": 4, "labelOverlap": false, "title": "MIP-1α (pg/ml)", "titleFontSize": 9, "titleFontWeight": "bold", "titlePadding": 5, "labelFontSize": 6.5, "labelColor": "#333333", "labelPadding": 1, "domainWidth": 1.2, "tickWidth": 1, "tickSize": 3}},
    "fill": {"field": "group", "type": "nominal", "scale": {"domain": ["Saline","sP-selectin","sE-selectin"], "range": ["#ffffff","#000000","#808080"]},
     "legend": {"title": "Injections:", "orient": "none", "legendX": 136, "legendY": -12, "direction": "vertical", "titleFontSize": 7.5, "titleFontWeight": "normal", "titlePadding": 3, "labelFontSize": 7.5, "labelColor": "#333333", "labelOffset": 5, "symbolType": "M-1.2,-0.7H1.2V0.7H-1.2Z", "symbolSize": 100, "symbolStrokeWidth": 1, "symbolStrokeColor": "#000000", "rowPadding": 1}}
   }},
  {"transform": [{"filter": "datum.group === 'sE-selectin'"}],
   "mark": {"type": "bar", "stroke": null, "fill": {"gradient":"linear","x1":0,"y1":0,"x2":1,"y2":0,"stops":[{"offset":0,"color":"#fff"},{"offset":0.1667,"color":"#fff"},{"offset":0.1667,"color":"#000"},{"offset":0.3333,"color":"#000"},{"offset":0.3333,"color":"#fff"},{"offset":0.5,"color":"#fff"},{"offset":0.5,"color":"#000"},{"offset":0.6667,"color":"#000"},{"offset":0.6667,"color":"#fff"},{"offset":0.8333,"color":"#fff"},{"offset":0.8333,"color":"#000"},{"offset":1,"color":"#000"}]}},
   "encoding": {"y": {"field": "mean", "type": "quantitative"}}},
  {"transform": [{"filter": "datum.group === 'sE-selectin'"}],
   "mark": {"type": "bar", "blend": "difference", "stroke": null, "fill": {"gradient":"linear","x1":0,"y1":0,"x2":0,"y2":1,"stops":[{"offset":0,"color":"#fff"},{"offset":0.0238,"color":"#fff"},{"offset":0.0238,"color":"#000"},{"offset":0.0476,"color":"#000"},{"offset":0.0476,"color":"#fff"},{"offset":0.0714,"color":"#fff"},{"offset":0.0714,"color":"#000"},{"offset":0.0952,"color":"#000"},{"offset":0.0952,"color":"#fff"},{"offset":0.119,"color":"#fff"},{"offset":0.119,"color":"#000"},{"offset":0.1429,"color":"#000"},{"offset":0.1429,"color":"#fff"},{"offset":0.1667,"color":"#fff"},{"offset":0.1667,"color":"#000"},{"offset":0.1905,"color":"#000"},{"offset":0.1905,"color":"#fff"},{"offset":0.2143,"color":"#fff"},{"offset":0.2143,"color":"#000"},{"offset":0.2381,"color":"#000"},{"offset":0.2381,"color":"#fff"},{"offset":0.2619,"color":"#fff"},{"offset":0.2619,"color":"#000"},{"offset":0.2857,"color":"#000"},{"offset":0.2857,"color":"#fff"},{"offset":0.3095,"color":"#fff"},{"offset":0.3095,"color":"#000"},{"offset":0.3333,"color":"#000"},{"offset":0.3333,"color":"#fff"},{"offset":0.3571,"color":"#fff"},{"offset":0.3571,"color":"#000"},{"offset":0.381,"color":"#000"},{"offset":0.381,"color":"#fff"},{"offset":0.4048,"color":"#fff"},{"offset":0.4048,"color":"#000"},{"offset":0.4286,"color":"#000"},{"offset":0.4286,"color":"#fff"},{"offset":0.4524,"color":"#fff"},{"offset":0.4524,"color":"#000"},{"offset":0.4762,"color":"#000"},{"offset":0.4762,"color":"#fff"},{"offset":0.5,"color":"#fff"},{"offset":0.5,"color":"#000"},{"offset":0.5238,"color":"#000"},{"offset":0.5238,"color":"#fff"},{"offset":0.5476,"color":"#fff"},{"offset":0.5476,"color":"#000"},{"offset":0.5714,"color":"#000"},{"offset":0.5714,"color":"#fff"},{"offset":0.5952,"color":"#fff"},{"offset":0.5952,"color":"#000"},{"offset":0.619,"color":"#000"},{"offset":0.619,"color":"#fff"},{"offset":0.6429,"color":"#fff"},{"offset":0.6429,"color":"#000"},{"offset":0.6667,"color":"#000"},{"offset":0.6667,"color":"#fff"},{"offset":0.6905,"color":"#fff"},{"offset":0.6905,"color":"#000"},{"offset":0.7143,"color":"#000"},{"offset":0.7143,"color":"#fff"},{"offset":0.7381,"color":"#fff"},{"offset":0.7381,"color":"#000"},{"offset":0.7619,"color":"#000"},{"offset":0.7619,"color":"#fff"},{"offset":0.7857,"color":"#fff"},{"offset":0.7857,"color":"#000"},{"offset":0.8095,"color":"#000"},{"offset":0.8095,"color":"#fff"},{"offset":0.8333,"color":"#fff"},{"offset":0.8333,"color":"#000"},{"offset":0.8571,"color":"#000"},{"offset":0.8571,"color":"#fff"},{"offset":0.881,"color":"#fff"},{"offset":0.881,"color":"#000"},{"offset":0.9048,"color":"#000"},{"offset":0.9048,"color":"#fff"},{"offset":0.9286,"color":"#fff"},{"offset":0.9286,"color":"#000"},{"offset":0.9524,"color":"#000"},{"offset":0.9524,"color":"#fff"},{"offset":0.9762,"color":"#fff"},{"offset":0.9762,"color":"#000"},{"offset":1,"color":"#000"}]}},
   "encoding": {"y": {"datum": 0}, "y2": {"datum": 300}}},
  {"transform": [{"filter": "datum.group === 'sE-selectin'"}],
   "mark": {"type": "bar", "fill": "#ffffff", "stroke": "#ffffff", "strokeWidth": 1.5},
   "encoding": {"y": {"field": "mean", "type": "quantitative"}, "y2": {"datum": 300}}},
  {"mark": {"type": "bar", "fill": "#ffffff", "fillOpacity": 0, "stroke": "#000000", "strokeWidth": 1.2},
   "encoding": {"y": {"field": "mean", "type": "quantitative"}}},
  {"mark": {"type": "rule", "color": "#000000", "strokeWidth": 1},
   "encoding": {"y": {"field": "mean", "type": "quantitative"}, "y2": {"field": "err"}}},
  {"mark": {"type": "tick", "orient": "horizontal", "color": "#000000", "size": 6, "thickness": 1},
   "encoding": {"y": {"field": "err", "type": "quantitative"}}},
  {"mark": {"type": "text", "fontSize": 8, "fontWeight": "bold", "color": "#000000"},
   "encoding": {"y": {"datum": 300}, "text": {"field": "sig"}}}
 ]
}
]
}
